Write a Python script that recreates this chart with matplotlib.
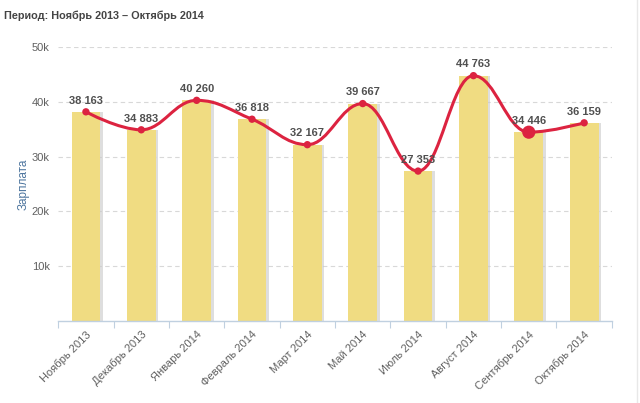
import numpy as np
import matplotlib.pyplot as plt
from matplotlib.path import Path
from matplotlib.patches import PathPatch
from matplotlib.lines import Line2D

plt.rcParams['font.family'] = ['Liberation Sans', 'DejaVu Sans']

months = ['Ноябрь 2013', 'Декабрь 2013', 'Январь 2014', 'Февраль 2014', 'Март 2014',
          'Май 2014', 'Июль 2014', 'Август 2014', 'Сентябрь 2014', 'Октябрь 2014']
salary = [38163, 34883, 40260, 36818, 32167, 39667, 27353, 44763, 34446, 36159]
yticks = [10000, 20000, 30000, 40000, 50000]
ytick_labels = ['10k', '20k', '30k', '40k', '50k']

bar_color = '#f0dc82'
line_color = '#dc2340'

fig = plt.figure(figsize=(6.4, 4.03), dpi=100)
ax = fig.add_axes([0.091, 0.2035, 0.865, 0.68])

x = np.arange(len(months))

# bar shadows, then bars
ax.bar(x + 0.045, salary, width=0.52, color='#c8c8c8', alpha=0.6, zorder=1)
ax.bar(x, salary, width=0.52, color=bar_color, zorder=2)

# spline the way highcharts does it (smoothing 1.5, no overshoot at extremes)
sm = 1.5
n = len(x)
left_c = [None] * n
right_c = [None] * n
for i in range(1, n - 1):
    lx, ly = x[i - 1], salary[i - 1]
    px, py = x[i], salary[i]
    nx, ny = x[i + 1], salary[i + 1]
    lcx = (sm * px + lx) / (sm + 1)
    lcy = (sm * py + ly) / (sm + 1)
    rcx = (sm * px + nx) / (sm + 1)
    rcy = (sm * py + ny) / (sm + 1)
    corr = (rcy - lcy) * (rcx - px) / (rcx - lcx) + py - rcy
    lcy += corr
    rcy += corr
    if lcy > ly and lcy > py:
        lcy = max(ly, py)
        rcy = 2 * py - lcy
    elif lcy < ly and lcy < py:
        lcy = min(ly, py)
        rcy = 2 * py - lcy
    if rcy > ny and rcy > py:
        rcy = max(ny, py)
        lcy = 2 * py - rcy
    elif rcy < ny and rcy < py:
        rcy = min(ny, py)
        lcy = 2 * py - rcy
    left_c[i] = (lcx, lcy)
    right_c[i] = (rcx, rcy)

verts = [(x[0], salary[0])]
codes = [Path.MOVETO]
for i in range(1, n):
    c1 = right_c[i - 1] or (x[i - 1], salary[i - 1])
    c2 = left_c[i] or (x[i], salary[i])
    verts += [c1, c2, (x[i], salary[i])]
    codes += [Path.CURVE4] * 3
ax.add_patch(PathPatch(Path(verts, codes), fill=False, edgecolor=line_color, lw=2.2, zorder=3))

sizes = [28] * n
sizes[8] = 90
ax.scatter(x, salary, s=sizes, color=line_color, zorder=4, linewidths=0)

for xi, v in zip(x, salary):
    ax.annotate(f'{v:,}'.replace(',', ' '), (xi, v), xytext=(0, 4.5), textcoords='offset points',
                ha='center', va='bottom', fontsize=8, fontweight='bold', color='#505050', zorder=5)

ax.set_xlim(-0.5, n - 0.5)
ax.set_ylim(0, 50000)
ax.set_yticks(yticks)
ax.set_yticklabels(ytick_labels)
ax.yaxis.grid(True, linestyle=(0, (4, 3)), color='#d8d8d8', lw=0.8)
ax.set_axisbelow(True)
ax.tick_params(axis='y', length=0, labelsize=8, labelcolor='#606060', pad=6)

ax.set_xticks(x)
ax.set_xticklabels(months, rotation=45, ha='right', rotation_mode='anchor')
ax.tick_params(axis='x', length=0, labelsize=8, labelcolor='#606060', pad=6)
ax.set_xticks(np.arange(-0.5, n), minor=True)
ax.tick_params(axis='x', which='minor', length=5, color='#c0d0e0', width=0.8)

for s in ['top', 'right', 'left']:
    ax.spines[s].set_visible(False)
ax.spines['bottom'].set_color('#c0d0e0')
ax.spines['bottom'].set_linewidth(1)

ax.set_ylabel('Зарплата', fontsize=8.5, color='#4d759e')
ax.yaxis.set_label_coords(-0.052, 0.5)
fig.text(0.006, 0.962, 'Период: Ноябрь 2013 – Октябрь 2014', fontsize=7.8, fontweight='bold',
         color='#444444', va='center')

# faint page border on the right
fig.add_artist(Line2D([0.995, 0.995], [0, 1], transform=fig.transFigure, color='#e8e8e8', lw=1))

fig.savefig('out.png', dpi=100)
